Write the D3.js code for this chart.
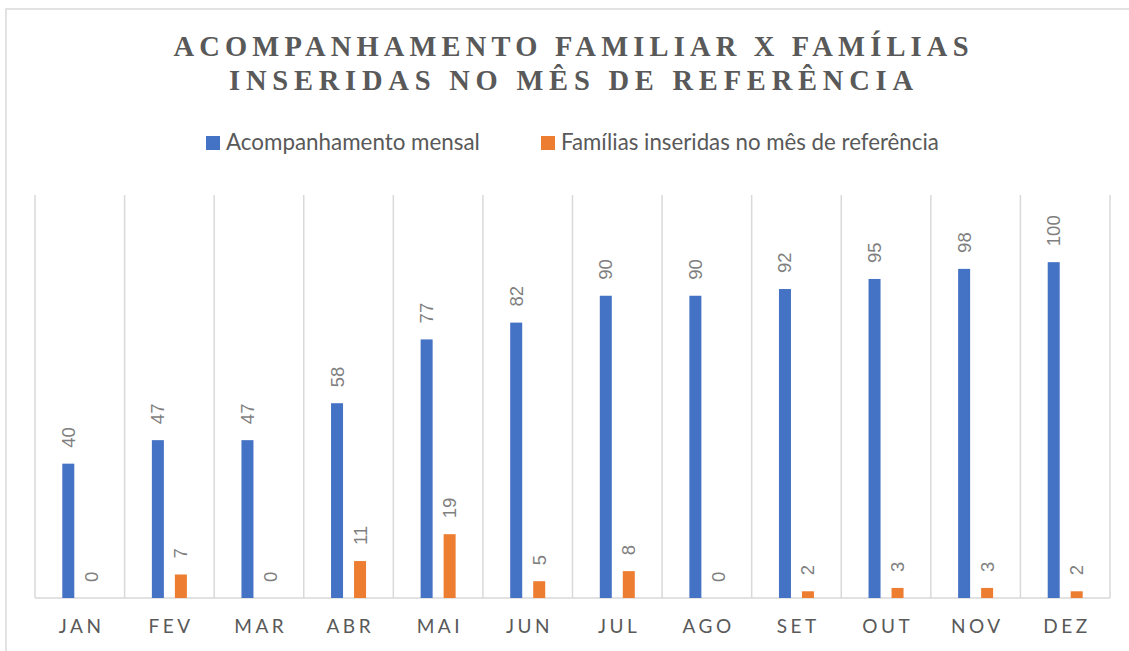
<!DOCTYPE html>
<html>
<head>
<meta charset="utf-8">
<script src="https://cdn.jsdelivr.net/npm/d3@7"></script>
<style>
html,body{margin:0;padding:0;background:#fff;}
svg{display:block;}
</style>
</head>
<body>
<svg id="chart" width="1129" height="651"></svg>
<script>
const months = ["JAN","FEV","MAR","ABR","MAI","JUN","JUL","AGO","SET","OUT","NOV","DEZ"];
const acompanhamento = [40,47,47,58,77,82,90,90,92,95,98,100];
const inseridas = [0,7,0,11,19,5,8,0,2,3,3,2];
const seriesNames = ["Acompanhamento mensal","Famílias inseridas no mês de referência"];
const seriesColors = ["#4472C4","#ED7D31"];
const titleLines = ["ACOMPANHAMENTO FAMILIAR X FAMÍLIAS","INSERIDAS NO MÊS DE REFERÊNCIA"];
const yMax = 120;

const svg = d3.select("#chart");
svg.append("rect").attr("width",1129).attr("height",651).attr("fill","#fff");

// chart border (left/top visible)
svg.append("path").attr("d","M6,651 V9 H1129").attr("fill","none").attr("stroke","#d9d9d9").attr("stroke-width",1.5);

// title
const titleG = svg.append("g");
const titleBase = [56, 90];
const titleWidths = [795, 684];
titleLines.forEach((t,i)=>{
  const tx = titleG.append("text")
    .attr("x",571).attr("y",titleBase[i])
    .attr("text-anchor","middle")
    .attr("font-family","Liberation Serif, serif")
    .attr("font-weight","bold")
    .attr("font-size",28.5)
    .attr("fill","#595959")
    .text(t);
  const w = tx.node().getComputedTextLength();
  const n = t.length;
  const ls = (titleWidths[i]-w)/(n-1);
  tx.attr("letter-spacing",ls).attr("x",571+ls/2);
});

// legend
const legendX = [206, 541];
const legendTextW = [254, 378];
seriesNames.forEach((s,i)=>{
  svg.append("rect").attr("x",legendX[i]).attr("y",136).attr("width",14).attr("height",14).attr("fill",seriesColors[i]);
  const tx = svg.append("text").attr("x",legendX[i]+20).attr("y",150)
    .attr("font-family","Lato, sans-serif").attr("font-size",20).attr("fill","#595959").text(s);
  const w = tx.node().getComputedTextLength();
  tx.attr("font-size",20*legendTextW[i]/w);
});

// scales
const plotL = 35, plotR = 1110, plotT = 195, plotB = 598;
const x0 = d3.scaleBand().domain(months).range([plotL, plotR]).padding(0);
const bw = x0.bandwidth();
const x1 = d3.scaleBand().domain([0,1]).range([bw/2-23, bw/2+23]).paddingInner(11/23).paddingOuter(11/46);
const y = d3.scaleLinear().domain([0,yMax]).range([plotB, plotT]);

// gridlines
const gridG = svg.append("g");
const bounds = months.map(m=>x0(m)).concat([plotR]);
gridG.selectAll("line").data(bounds).enter().append("line")
  .attr("x1",d=>d).attr("x2",d=>d).attr("y1",plotT).attr("y2",plotB)
  .attr("stroke","#d9d9d9").attr("stroke-width",1.5);
gridG.append("line").attr("x1",plotL).attr("x2",plotR).attr("y1",plotB).attr("y2",plotB)
  .attr("stroke","#d9d9d9").attr("stroke-width",1.5);

// bars
const data = months.map((m,i)=>({m, vals:[acompanhamento[i], inseridas[i]]}));
const groups = svg.append("g").selectAll("g").data(data).enter().append("g")
  .attr("transform",d=>`translate(${x0(d.m)},0)`);
groups.selectAll("rect").data(d=>d.vals.map((v,k)=>({v,k}))).enter().append("rect")
  .attr("x",d=>x1(d.k)).attr("width",x1.bandwidth())
  .attr("y",d=>y(d.v)).attr("height",d=>plotB-y(d.v))
  .attr("fill",d=>seriesColors[d.k]);
groups.selectAll("text").data(d=>d.vals.map((v,k)=>({v,k}))).enter().append("text")
  .attr("transform",d=>`translate(${x1(d.k)+x1.bandwidth()/2},${y(d.v)-16}) rotate(-90)`)
  .attr("dominant-baseline","central")
  .attr("font-family","Liberation Sans, Arial, sans-serif")
  .attr("font-size",18.5).attr("fill","#7f7f7f")
  .text(d=>d.v);

// x axis labels
const xAxis = d3.axisBottom(x0).tickSize(0).tickPadding(0);
const axG = svg.append("g").attr("transform",`translate(0,${plotB})`).call(xAxis);
axG.select(".domain").remove();
axG.selectAll("text")
  .attr("y",35).attr("dy",0)
  .attr("font-family","Lato, sans-serif").attr("font-size",19)
  .attr("fill","#595959").attr("letter-spacing",3.5).attr("x",1.75);
</script>
</body>
</html>
